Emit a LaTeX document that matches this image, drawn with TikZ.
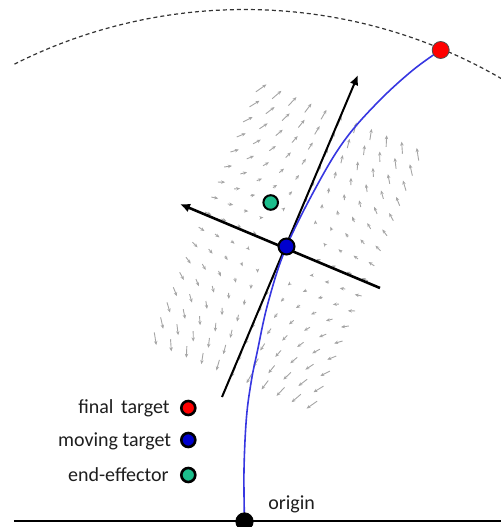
\documentclass[tikz,border=0pt]{standalone}
\usepackage{fontspec}
\setmainfont{Carlito}
\usetikzlibrary{arrows.meta}
\definecolor{dotred}{RGB}{255,0,0}
\definecolor{dotblue}{RGB}{0,0,205}
\definecolor{dotgreen}{RGB}{28,190,140}
\definecolor{curveblue}{RGB}{55,55,225}
\definecolor{fieldgray}{RGB}{165,165,165}
\definecolor{txt}{RGB}{30,30,30}
\tikzset{
  dotbase/.style={circle, inner sep=0pt, draw=black},
  legenddot/.style={dotbase, line width=1.3pt, minimum size=7pt},
  bigdot/.style={dotbase, line width=1pt, minimum size=8pt},
  label/.style={inner sep=0pt, text=txt, font=\fontsize{10}{12}\selectfont},
  fieldarrow/.style={draw=fieldgray, line width=0.45pt, -{Stealth[length=2pt,width=1.7pt]}},
  axisarrow/.style={draw=black, -{Latex[length=5pt,width=4.5pt]}},
  arcline/.style={draw=black!80, line width=0.6pt, dash pattern=on 2pt off 1.5pt},
  pathline/.style={draw=curveblue, line width=0.8pt},
  baseline/.style={draw=black, line width=1pt}
}
\begin{document}
\begin{tikzpicture}[x=0.5pt,y=0.5pt]
\useasboundingbox (0,0) rectangle (501,527);
\clip (0,0) rectangle (501,527);

% key points
\coordinate (O) at (244.5,5.5);
\coordinate (M) at (286.5,280.5);
\coordinate (BL) at (14,6);
\coordinate (BR) at (501,6);

% vector field (saddle) in frame of tangent/normal
\begin{scope}[shift={(M)}, rotate=67.1]
\foreach \u in {-136,-119,...,136}{
  \foreach \v in {-85,-68,...,86}{
    \pgfmathsetmacro\rr{(\u/10)^2+(\v/10)^2}
    \ifdim\rr pt>9pt
      \draw[fieldarrow] ({0.96*\u},{1.04*\v}) -- ({1.04*\u},{0.96*\v});
    \fi
  }
}
\end{scope}

% dashed arc of reachable workspace
\draw[arcline] ([shift={(116.7:512)}]O) arc[start angle=116.7, end angle=57, radius=512];

% ground line
\draw[baseline] (BL) -- (BR);

% axes
\coordinate (T0) at (222,130);
\coordinate (T1) at (358,452);
\coordinate (N0) at (380,239);
\coordinate (N1) at (180,323);
\draw[axisarrow, line width=1pt] (T0) -- (T1);
\draw[axisarrow, line width=1.3pt] (N0) -- (N1);

% trajectory
\coordinate (R) at (440.7,477);
\draw[pathline] plot[smooth, tension=0.6] coordinates {(O) (244,57) (246.5,110) (251.5,147) (257,174) (268,224) (M) (320,347) (347,390) (380,427) (413,457) (R)};

% dots
\node[dotbase, fill=black, minimum size=8.7pt] (origin) at (O) {};
\node[dotbase, fill=dotred, line width=0.4pt, draw=black!70, minimum size=8.5pt] (final) at (R) {};
\node[bigdot, fill=dotblue] (moving) at (M) {};
\node[bigdot, fill=dotgreen, minimum size=7.3pt] (ee) at (270.7,324.5) {};

% legend
\node[legenddot, fill=dotred] (lred) at (188.3,119) {};
\node[legenddot, fill=dotblue] (lblue) at (188.3,87) {};
\node[legenddot, fill=dotgreen] (lgreen) at (188.3,52) {};
\node[label, anchor=base east] (tfinal) at (170,113) {final\hspace{1.5pt} target};
\node[label, anchor=base east] (tmoving) at (171.5,80.5) {moving target};
\node[label, anchor=base east] (tee) at (169,45.5) {end-effector};
\node[label, anchor=base west] (torigin) at (268,18) {origin};
\end{tikzpicture}
\end{document}
